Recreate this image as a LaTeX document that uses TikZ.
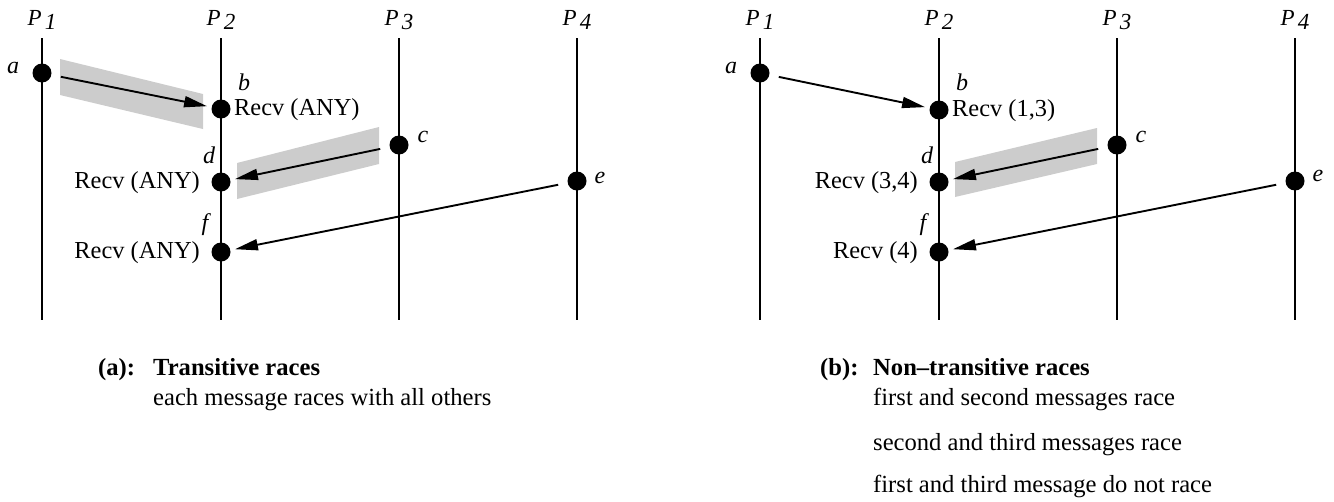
\documentclass[tikz,border=0pt]{standalone}
\usepackage{fontspec}
\setmainfont{Liberation Serif}
\usetikzlibrary{arrows.meta}

\begin{document}
\begin{tikzpicture}[x=1pt,y=-1pt,
  life/.style={line width=2.3pt},
  ev/.style={circle,fill=black,minimum size=19pt,inner sep=0pt},
  msg/.style={-{Triangle[length=23pt,width=11pt]},line width=1.9pt,
              shorten <=9.5pt,shorten >=4.5pt},
  band/.style={fill=black!20,draw=none},
  proc/.style={font=\fontsize{23}{26}\selectfont,inner sep=0pt,anchor=base},
  evname/.style={font=\itshape\fontsize{24}{28}\selectfont,inner sep=0pt},
  recv/.style={font=\fontsize{24.4}{28}\selectfont,inner sep=0pt},
  captxt/.style={font=\fontsize{24.6}{28}\selectfont,inner sep=0pt,anchor=base west},
  capbold/.style={captxt,font=\bfseries\fontsize{24.6}{28}\selectfont}]
\useasboundingbox (0,0) rectangle (1334,501);

\newcommand{\procname}[1]{\textit{P}\kern3pt\raisebox{-4.5pt}{\textit{#1}}}

% ---------------- panel (a): transitive races ----------------
\begin{scope}
  % shaded race bands
  \fill[band] (60,59) -- (203,94) -- (203,129) -- (60,95) -- cycle;
  \fill[band] (237,163) -- (379,127) -- (379,164) -- (237,199) -- cycle;

  % process lifelines
  \foreach \i/\x in {1/42,2/221,3/399,4/577}{
    \coordinate (At\i) at (\x,38);
    \coordinate (Ab\i) at (\x,320);
    \draw[life] (At\i) -- (Ab\i);
    \node[proc] (AP\i) at (\x,25) {\procname{\i}};
  }

  % events
  \node[ev] (Aa) at (42,73) {};
  \node[ev] (Ab) at (221,109) {};
  \node[ev] (Ac) at (399,145) {};
  \node[ev] (Ad) at (221,182) {};
  \node[ev] (Ae) at (577,181) {};
  \node[ev] (Af) at (221,252) {};

  % messages
  \draw[msg] (Aa) -- (Ab);
  \draw[msg] (Ac) -- (Ad);
  \draw[msg] (Ae) -- (Af);

  % event names
  \node[evname] (Aan) at (13,68) {a};
  \node[evname] (Abn) at (244,82) {b};
  \node[evname] (Acn) at (423,137) {c};
  \node[evname] (Adn) at (209,155) {d};
  \node[evname] (Aen) at (600,178) {e};
  \node[evname] (Afn) at (205,225) {f};

  % receive labels
  \node[recv,anchor=west] (Abr) at (234,110) {Recv (ANY)};
  \node[recv,anchor=east] (Adr) at (200,183) {Recv (ANY)};
  \node[recv,anchor=east] (Afr) at (200,253) {Recv (ANY)};

  % caption
  \node[capbold] (Acap1) at (98,375) {(a):};
  \node[capbold] (Acap2) at (153,375) {Transitive races};
  \node[captxt]  (Acap3) at (153,405) {each message races with all others};
\end{scope}

% ---------------- panel (b): non-transitive races ----------------
\begin{scope}
  % shaded race band
  \fill[band] (955,162) -- (1097,128) -- (1097,164) -- (955,197) -- cycle;

  % process lifelines
  \foreach \i/\x in {1/760,2/939,3/1117,4/1295}{
    \coordinate (Bt\i) at (\x,38);
    \coordinate (Bb\i) at (\x,320);
    \draw[life] (Bt\i) -- (Bb\i);
    \node[proc] (BP\i) at (\x,25) {\procname{\i}};
  }

  % events
  \node[ev] (Ba) at (760,73) {};
  \node[ev] (Bb) at (939,110) {};
  \node[ev] (Bc) at (1117,145) {};
  \node[ev] (Bd) at (939,182) {};
  \node[ev] (Be) at (1295,181) {};
  \node[ev] (Bf) at (939,252) {};

  % messages
  \draw[msg] (Ba) -- (Bb);
  \draw[msg] (Bc) -- (Bd);
  \draw[msg] (Be) -- (Bf);

  % event names
  \node[evname] (Ban) at (731,68) {a};
  \node[evname] (Bbn) at (962,82) {b};
  \node[evname] (Bcn) at (1141,137) {c};
  \node[evname] (Bdn) at (927,155) {d};
  \node[evname] (Ben) at (1318,176) {e};
  \node[evname] (Bfn) at (923,225) {f};

  % receive labels
  \node[recv,anchor=west] (Bbr) at (952,111) {Recv (1,3)};
  \node[recv,anchor=east] (Bdr) at (918,183) {Recv (3,4)};
  \node[recv,anchor=east] (Bfr) at (918,253) {Recv (4)};

  % caption
  \node[capbold] (Bcap1) at (820,375) {(b):};
  \node[capbold] (Bcap2) at (873,375) {Non–transitive races};
  \node[captxt]  (Bcap3) at (873,405) {first and second messages race};
  \node[captxt]  (Bcap4) at (873,450) {second and third messages race};
  \node[captxt]  (Bcap5) at (873,492) {first and third message do not race};
\end{scope}
\end{tikzpicture}
\end{document}
